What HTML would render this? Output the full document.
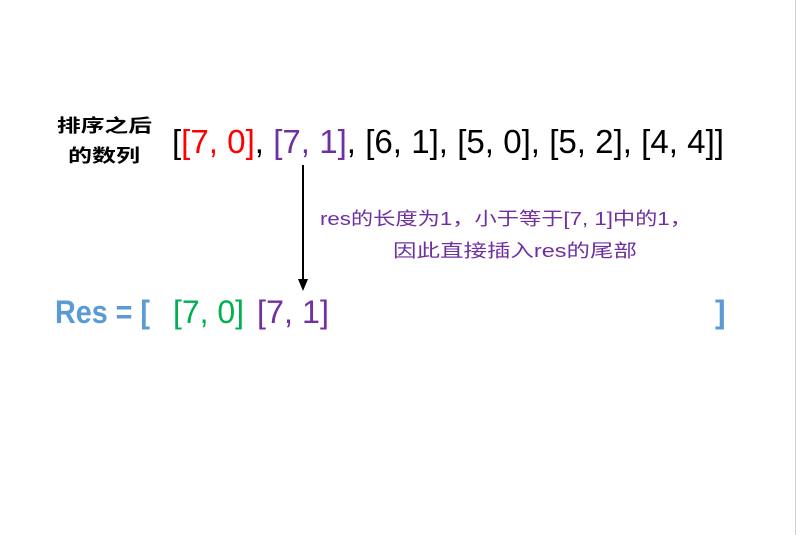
<!DOCTYPE html>
<html><head><meta charset="utf-8"><style>
html,body{margin:0;padding:0;background:#fff;}
svg{display:block}
</style></head><body>
<svg width="796" height="535" viewBox="0 0 796 535" xmlns="http://www.w3.org/2000/svg">
<rect x="0" y="0" width="796" height="535" fill="#fff"/>
<line x1="795.5" y1="0" x2="795.5" y2="535" stroke="#d0d0d0" stroke-width="1"/>
<g font-family="Liberation Sans, Noto Sans CJK SC, sans-serif">
<text x="57" y="132" font-size="18" font-weight="bold" fill="#000" textLength="95" lengthAdjust="spacingAndGlyphs">排序之后</text>
<text x="68" y="162" font-size="18" font-weight="bold" fill="#000" textLength="72" lengthAdjust="spacingAndGlyphs">的数列</text>
<text x="172" y="153" font-size="33" fill="#000" textLength="552" lengthAdjust="spacingAndGlyphs">[<tspan fill="#ff0000">[7, 0]</tspan>, <tspan fill="#7030a0">[7, 1]</tspan>, [6, 1], [5, 0], [5, 2], [4, 4]]</text>
<line x1="303" y1="165" x2="303" y2="280" stroke="#000" stroke-width="2"/>
<polygon points="298,279 308,279 303,291" fill="#000"/>
<text x="320" y="225" font-size="18" fill="#7030a0" textLength="372" lengthAdjust="spacingAndGlyphs">res的长度为1，小于等于[7, 1]中的1，</text>
<text x="393" y="257" font-size="18" fill="#7030a0" textLength="244" lengthAdjust="spacingAndGlyphs">因此直接插入res的尾部</text>
<text x="55" y="323" font-size="32" font-weight="bold" fill="#5b9bd5" textLength="95" lengthAdjust="spacingAndGlyphs">Res = [</text>
<text x="173" y="323" font-size="32" fill="#00b050" textLength="71" lengthAdjust="spacingAndGlyphs">[7, 0]</text>
<text x="257" y="323" font-size="32" fill="#7030a0" textLength="72" lengthAdjust="spacingAndGlyphs">[7, 1]</text>
<text x="715" y="323" font-size="32" font-weight="bold" fill="#5b9bd5">]</text>
</g>
</svg>
</body></html>
